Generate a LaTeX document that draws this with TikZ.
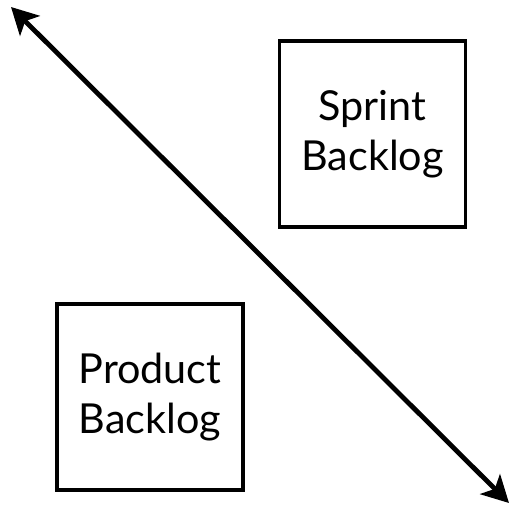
\documentclass[tikz,border=0pt]{standalone}
\usepackage{fontspec}
\setmainfont{Lato}
\usetikzlibrary{arrows.meta}

\tikzset{every picture/.style={line width=0.75pt}}
\tikzset{backlogbox/.style={draw, line width=2.4pt, minimum width=139.5pt, minimum height=139.5pt, inner sep=0pt, align=center, font=\fontsize{31}{37.5}\selectfont}}

\begin{document}
\begin{tikzpicture}[x=0.75pt,y=0.75pt,yscale=-1,xscale=1]
	%set diagram left start at 0, and has height of 506
	\useasboundingbox (0,0) rectangle (510,506);
	
	%Shape: Rectangle [id:sprintbacklog]
	\node [backlogbox] (sprint) at (372.5,134) {Sprint\\Backlog};
	%Shape: Rectangle [id:productbacklog]
	\node [backlogbox] (product) at (150,397) {Product\\Backlog};
	
	%Straight Lines [id:divider]
	\coordinate (topleft) at (11,7);
	\coordinate (bottomright) at (509,503);
	\draw [line width=3.6pt, {Stealth[length=20pt,width=21pt,inset=5pt]}-{Stealth[length=20pt,width=21pt,inset=5pt]}]  (topleft) -- (bottomright) ;
	
\end{tikzpicture}
\end{document}
